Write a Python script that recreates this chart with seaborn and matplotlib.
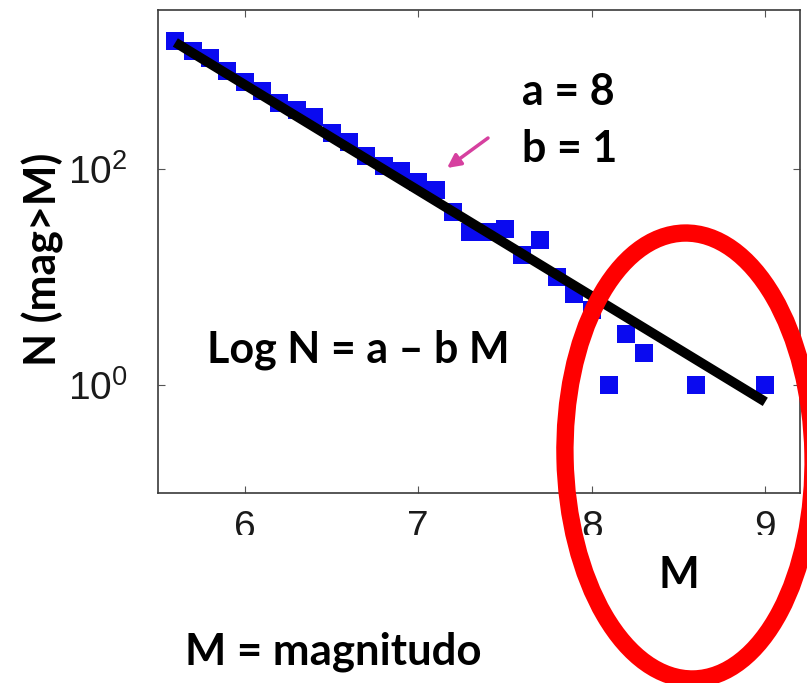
import numpy as np
import pandas as pd
import matplotlib
matplotlib.use("Agg")
import matplotlib.pyplot as plt
import seaborn as sns
from matplotlib.patches import Ellipse
from matplotlib.transforms import Bbox, TransformedBbox, IdentityTransform
from matplotlib.ticker import FixedLocator, NullLocator

# Cumulative counts N(mag > M) per magnitude bin
magnitude = [5.6, 5.7, 5.8, 5.9, 6.0, 6.1, 6.2, 6.3, 6.4, 6.5,
             6.6, 6.7, 6.8, 6.9, 7.0, 7.1, 7.2, 7.3, 7.4, 7.5,
             7.6, 7.7, 7.8, 7.9, 8.0, 8.1, 8.2, 8.3, 8.6, 9.0]
count = [1550, 1260, 1075, 815, 646, 535, 415, 357, 308, 219,
         178, 132, 107, 96, 76, 65, 40, 26, 26, 28,
         16, 22, 10, 7, 5, 1, 3, 2, 1, 1]

# Gutenberg-Richter fit line end points
fit_m = [5.6, 9.0]
fit_n = [1500, 0.7]

x_ticks = [6, 7, 8, 9]
y_ticks = [1, 100]

W, H = 807, 683
sns.set_style("ticks")
plt.rcParams["font.family"] = ["Liberation Sans", "DejaVu Sans"]
plt.rcParams["mathtext.fontset"] = "custom"
plt.rcParams["mathtext.rm"] = "Liberation Sans"
plt.rcParams["mathtext.default"] = "regular"

fig = plt.figure(figsize=(W / 100, H / 100), dpi=100)
fig.patch.set_facecolor("white")


def px(x, y):
    """Figure fraction from pixel position measured from the top-left."""
    return x / W, 1 - y / H


left, top, right, bottom = 158, 10, 800, 493
ax = fig.add_axes([left / W, 1 - bottom / H, (right - left) / W, (bottom - top) / H])

df = pd.DataFrame({"M": magnitude, "N": count})
fit = pd.DataFrame({"M": fit_m, "N": fit_n})

sns.scatterplot(data=df, x="M", y="N", marker="s", s=150, color="#0a0af0",
                linewidth=0, ax=ax, zorder=2)
sns.lineplot(data=fit, x="M", y="N", color="black", linewidth=7, ax=ax,
             zorder=3, solid_capstyle="butt")

ax.set_yscale("log")
ax.set_xlim(5.5, 9.2)
ax.set_ylim(0.1, 3000)
ax.xaxis.set_major_locator(FixedLocator(x_ticks))
ax.yaxis.set_major_locator(FixedLocator(y_ticks))
ax.yaxis.set_minor_locator(NullLocator())
ax.set_xlabel("")
ax.set_ylabel("")

for side in ["left", "right", "top", "bottom"]:
    ax.spines[side].set_visible(True)
    ax.spines[side].set_color("#3a3a3a")
    ax.spines[side].set_linewidth(1.2)
ax.tick_params(axis="both", which="both", direction="in", length=5, width=0.8,
               color="#555555", top=True, right=True, labelsize=28,
               labelcolor="#1a1a1a")
ax.tick_params(axis="x", pad=12)
ax.tick_params(axis="y", pad=22)

# Bottom edge of the tick labels is cut off
clip = TransformedBbox(Bbox([[0, 1 - 535 / H], [1, 1]]), fig.transFigure)
for lab in ax.get_xticklabels():
    lab.set_clip_box(clip)
    lab.set_clip_on(True)

bold = dict(family=["Lato", "DejaVu Sans"], fontweight="bold", color="black")

fig.text(*px(522, 105), "a = 8", fontsize=31, va="baseline", ha="left", **bold)
fig.text(*px(522, 162), "b = 1", fontsize=31, va="baseline", ha="left", **bold)
fig.text(*px(207, 362), "Log N = a \u2013 b M", fontsize=31, va="baseline",
         ha="left", **bold)
fig.text(*px(679, 588), "M", fontsize=31, va="baseline", ha="center", **bold)
fig.text(*px(185, 665), "M = magnitudo", fontsize=31.5, va="baseline", ha="left",
         **bold)
fig.text(*px(43, 259), "N (mag>M)", fontsize=31, va="center", ha="center",
         rotation=90, **bold)

# Pointer towards the fit line
ax.annotate("", xy=px(447, 168), xytext=px(488, 138),
            xycoords="figure fraction", textcoords="figure fraction",
            arrowprops=dict(arrowstyle="-|>,head_length=0.8,head_width=0.4",
                            color="#d6409f", lw=2.5, shrinkA=0, shrinkB=0))

# Highlight of the large-magnitude tail
ring = Ellipse((689, H - 456), 248, 446, angle=1.2, fill=False,
               edgecolor="#ff0000", linewidth=12.5, transform=IdentityTransform(),
               zorder=10)
fig.patches.append(ring)

fig.savefig("out.png", dpi=100, facecolor="white")
